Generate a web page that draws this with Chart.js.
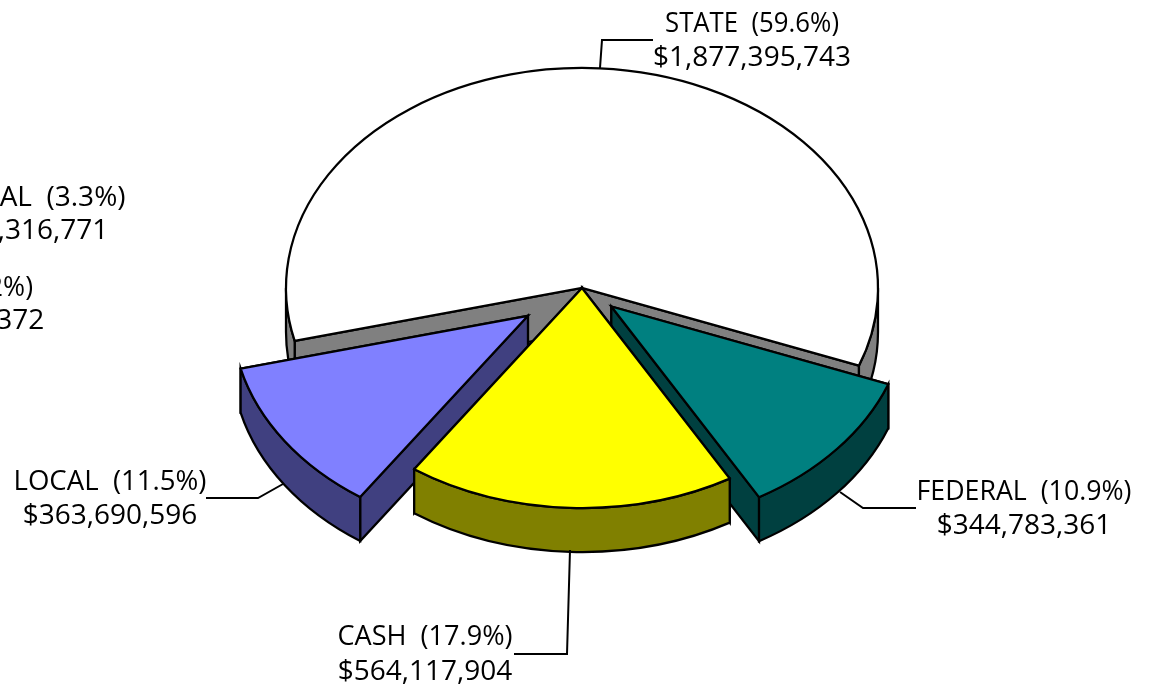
<!DOCTYPE html>
<html lang="en">
<head>
    <meta charset="UTF-8">
    <title>Revenue by source</title>
    <script src="https://cdn.jsdelivr.net/npm/chart.js"></script>
    <style>
        html, body { margin: 0; padding: 0; background: #fff; overflow: hidden; }
        canvas { display: block; }
    </style>
</head>
<body>
    <canvas id="pie" width="1155" height="686"></canvas>

    <script>
        const categories = ['STATE', 'FEDERAL', 'CASH', 'LOCAL'];
        const amounts = [1877395743, 344783361, 564117904, 363690596];

        // two lines per label, the two left ones run off the page in the original
        const labelLines = [
            ['STATE  (59.6%)', '$1,877,395,743'],
            ['FEDERAL  (10.9%)', '$344,783,361'],
            ['CASH  (17.9%)', '$564,117,904'],
            ['LOCAL  (11.5%)', '$363,690,596'],
            ['FEDERAL  (3.3%)', '$104,316,771'],
            ['MISC  (3.2%)', '$100,000,372']
        ];

        const faceColors = ['#ffffff', '#008080', '#ffff00', '#8080ff'];
        const wallColors = ['#808080', '#004040', '#808000', '#404080'];
        const explode = [0, 0.13, 0, 0.222];      // share of the radius
        const drawOrder = [0, 1, 3, 2];           // back to front

        const pieCenter = { x: 582, y: 288 };
        const radius = 296;
        const squash = 220 / 296;
        const depth = 44;

        // centre x, first baseline, second baseline, width of the first line
        const labelPos = [
            [752, 32, 66, 174], [1024, 500, 534, 215], [425, 645, 680, 175],
            [110, 490, 524, 193], [21, 206, 239, 215], [-43, 296, 329, 152]
        ];
        const leaders = [
            [[600, 68], [602, 40], [653, 40]],
            [[840, 492], [863, 508], [916, 508]],
            [[570, 550], [567, 654], [514, 654]],
            [[283, 484], [258, 498], [206, 498]]
        ];

        function drawWalls(ctx, arc, i) {
            const d = depth / squash;
            const a = arc.startAngle, b = arc.endAngle;
            ctx.fillStyle = wallColors[i];
            ctx.strokeStyle = '#000';
            ctx.lineWidth = 2.25;
            ctx.lineJoin = 'miter';

            // the two cut sides, the one nearer the viewer goes last
            const sides = Math.sin(a) < Math.sin(b) ? [a, b] : [b, a];
            sides.forEach(t => {
                const ex = arc.x + Math.cos(t) * arc.outerRadius;
                const ey = arc.y + Math.sin(t) * arc.outerRadius;
                ctx.beginPath();
                ctx.moveTo(arc.x, arc.y);
                ctx.lineTo(ex, ey);
                ctx.lineTo(ex, ey + d);
                ctx.lineTo(arc.x, arc.y + d);
                ctx.closePath();
                ctx.fill();
                ctx.stroke();
            });

            // rim, only the part that faces the front
            for (let k = 0; k < 3; k++) {
                const from = Math.max(a, k * 2 * Math.PI);
                const to = Math.min(b, k * 2 * Math.PI + Math.PI);
                if (to <= from) continue;
                ctx.beginPath();
                ctx.arc(arc.x, arc.y, arc.outerRadius, from, to);
                ctx.arc(arc.x, arc.y + d, arc.outerRadius, to, from, true);
                ctx.closePath();
                ctx.fill();
                ctx.stroke();
            }
        }

        const tiltedPie = {
            id: 'tiltedPie',
            afterDatasetUpdate(chart, args) {
                // chart.js "offset" also grows the slice, so move the arcs by hand
                chart.getDatasetMeta(args.index).data.forEach((arc, i) => {
                    const mid = (arc.startAngle + arc.endAngle) / 2;
                    arc.x += Math.cos(mid) * explode[i] * arc.outerRadius;
                    arc.y += Math.sin(mid) * explode[i] * arc.outerRadius;
                });
            },
            beforeDatasetDraw(chart, args) {
                const ctx = chart.ctx;
                const area = chart.chartArea;
                const cx = (area.left + area.right) / 2;
                const cy = (area.top + area.bottom) / 2;
                const arcs = args.meta.data;

                // keep the line width even under the squash
                const plainStroke = ctx.stroke;
                ctx.stroke = function () {
                    ctx.save();
                    ctx.setTransform(1, 0, 0, 1, 0, 0);
                    plainStroke.call(ctx);
                    ctx.restore();
                };

                ctx.save();
                ctx.translate(pieCenter.x, pieCenter.y);
                ctx.scale(1, squash);
                ctx.translate(-cx, -cy);
                drawOrder.forEach(i => {
                    drawWalls(ctx, arcs[i], i);
                    arcs[i].draw(ctx);
                });
                ctx.restore();

                delete ctx.stroke;
                return false;
            },
            afterDraw(chart) {
                const ctx = chart.ctx;
                ctx.save();
                ctx.strokeStyle = '#000';
                ctx.lineWidth = 2;
                leaders.forEach(line => {
                    ctx.beginPath();
                    line.forEach((p, i) => i ? ctx.lineTo(p[0], p[1]) : ctx.moveTo(p[0], p[1]));
                    ctx.stroke();
                });

                ctx.fillStyle = '#000';
                ctx.font = '28px "Open Sans"';
                ctx.textAlign = 'center';
                ctx.textBaseline = 'alphabetic';
                labelLines.forEach((lines, i) => {
                    const pos = labelPos[i];
                    ctx.fillText(lines[0], pos[0], pos[1], pos[3]);
                    ctx.fillText(lines[1], pos[0], pos[2]);
                });
                ctx.restore();
            }
        };

        new Chart(document.getElementById('pie'), {
            type: 'pie',
            data: {
                labels: categories,
                datasets: [{
                    data: amounts,
                    backgroundColor: faceColors,
                    borderColor: '#000',
                    borderWidth: 2.25,
                    borderJoinStyle: 'miter',
                    radius: radius,
                    clip: false
                }]
            },
            options: {
                responsive: false,
                animation: false,
                rotation: 256.1,
                plugins: { legend: { display: false }, tooltip: { enabled: false } }
            },
            plugins: [tiltedPie]
        });
    </script>
</body>
</html>
